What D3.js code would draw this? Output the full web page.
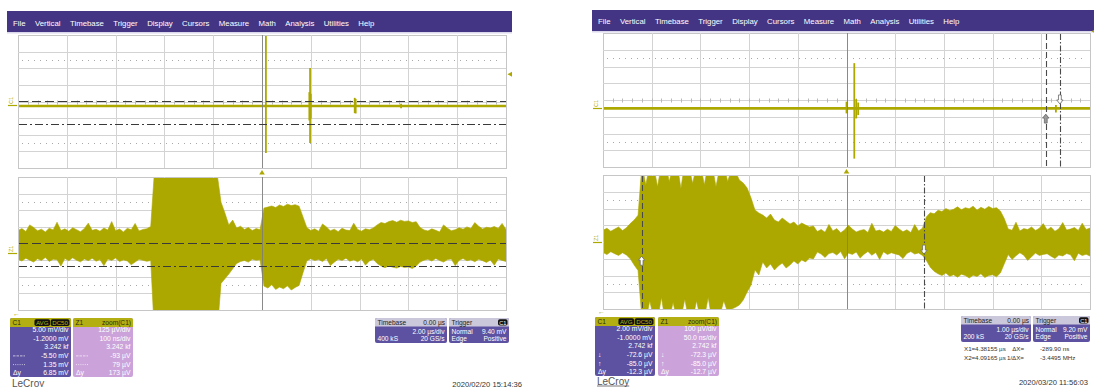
<!DOCTYPE html>
<html><head><meta charset="utf-8">
<script src="https://cdn.jsdelivr.net/npm/d3@7"></script>
<style>
html,body{margin:0;padding:0;background:#fff;}
svg{display:block;font-family:"Liberation Sans",Arial,sans-serif;}
</style></head><body>
<svg id="chart" width="1094" height="387"></svg>
<script>
// ---------------- data ----------------
const menuItems = ["File","Vertical","Timebase","Trigger","Display","Cursors","Measure","Math","Analysis","Utilities","Help"];

// Capture A: 2020/02/20 15:14:36
const aC1Offset = -1.2;            // mV
const aC1PerDiv = 5;               // mV/div
const aTimePerDiv = 2;             // µs/div
const aC1Level = -0.15;            // mV, quiet trace level
const aC1EventT   = [0.16, 1.94, 1.97, 2.00, 3.80, 3.84, 5.70];   // µs
const aC1EventMax = [22, 4.0, 11.3, 3.5, 2.3, 2.0, 0.5];         // mV
const aC1EventMin = [-14.3, -4.5, -11.3, -4.0, -2.3, -2.4, -0.8];// mV
const aC1Cursors = [-5.50, 1.35];  // mV
const aTrigLevel = 9.40;           // mV

const aZ1PerDiv = 125;             // µV/div
const aZ1Centre = 75;              // µV
const aZ1NsPerDiv = 100;
const aZ1T0 = -500, aZ1Step = 8;   // ns
const aZ1Max = [173,187,165,215,196,170,183,161,190,177,235,172,185,168,193,179,163,188,228,174,182,167,191,176,240,171,184,162,189,178,226,169,181,186,203,
  640,690,655,700,620,680,660,710,645,690,630,675,700,650,685,640,600,
  386,304,214,251,191,205,180,195,173,187,179,
  341,349,357,345,365,353,371,360,367,356,
  275,
  193,173,185,167,222,200,171,183,164,190,176,172,228,181,168,186,178,192,
  215,233,225,240,247,235,250,241,245,233,239,195,
  177,169,185,174,162,215,190,171,179,193,183,200,187,232,205,184,197,192,203,188,226,180];
const aZ1Min = [-45,-57,-35,-50,-65,-40,-53,-30,-60,-43,-47,-95,-37,-55,-33,-51,-63,-41,-54,-36,-58,-46,-92,-42,-52,-34,-61,-48,-56,-85,-64,-44,-51,-59,-53,
  -640,-700,-660,-690,-620,-680,-650,-710,-640,-670,-690,-630,-700,-660,-680,-650,-600,
  -225,-190,-155,-115,-75,-60,-53,-65,-43,-51,-47,
  -245,-260,-235,-270,-253,-265,-243,-275,-255,-240,
  -145,
  -55,-40,-53,-45,-61,-37,-90,-66,-43,-52,-35,-58,-47,-63,-41,-88,-56,-44,
  -75,-95,-107,-93,-103,-110,-97,-105,-101,-113,-95,-65,
  -50,-43,-57,-37,-53,-65,-46,-42,-92,-51,-38,-55,-47,-62,-44,-54,-67,-49,-88,-41,-52,-60];
const aZ1Cursors = [-93, 79];      // µV

const aC1Info = ["5.00 mV/div","-1.2000 mV","3.242 kf","-5.50 mV","1.35 mV","6.85 mV"];
const aZ1Info = ["125 µV/div","100 ns/div","3.242 kf","-93 µV","79 µV","173 µV"];
const aTimebase = ["0.00 µs","2.00 µs/div","400 kS","20 GS/s"];
const aTrigger = ["C1","Normal","9.40 mV","Edge","Positive"];
const aStamp = "2020/02/20 15:14:36";

// Capture B: 2020/03/20 11:56:03
const bC1Offset = -1.0;            // mV
const bC1PerDiv = 2;               // mV/div
const bTimePerDiv = 1;             // µs/div
const bC1Level = 0.0;
const bC1EventT   = [0.00, 0.16, 0.20, 0.24, 4.30];
const bC1EventMax = [0.8, 5.4, 1.1, 0.7, 0.4];
const bC1EventMin = [-0.6, -6.0, -1.2, -0.8, -0.5];
const bTrigLevel = 9.20;
const bCursorX1 = 4.38155, bCursorX2 = 4.09165;   // µs

const bZ1PerDiv = 100;             // µV/div
const bZ1NsPerDiv = 50;
const bZ1T0 = 4052, bZ1Step = 4;   // ns
const bZ1Max = [70,82,64,77,90,68,85,110,131,160,
  460,340,470,455,330,465,480,360,460,470,320,475,460,350,455,470,340,465,460,330,450,470,360,440,420,
  370,352,322,263,191,173,161,143,167,131,119,143,125,107,119,96,113,101,90,96,
  62,75,58,105,66,80,55,72,100,77,60,69,74,57,112,65,71,59,76,63,98,78,61,73,56,104,66,82,
  150,175,168,190,182,200,188,195,210,192,205,198,214,190,207,196,212,200,205,185,140,
  78,70,118,66,80,74,90,68,82,110,72,88,64,79,116,71,77,86,69,112,75,83];
const bZ1Min = [-62,-75,-58,-70,-80,-64,-77,-100,-137,-170,
  -460,-470,-350,-455,-465,-330,-480,-460,-360,-470,-455,-340,-465,-470,-350,-460,-455,-330,-470,-460,-440,-350,-420,-400,-390,
  -376,-346,-298,-257,-167,-197,-119,-155,-131,-167,-143,-125,-155,-137,-113,-131,-107,-119,-95,-101,
  -60,-72,-92,-68,-63,-78,-57,-100,-66,-74,-59,-96,-73,-56,-79,-62,-104,-58,-75,-64,-71,-77,-99,-68,-57,-72,-65,-80,
  -110,-150,-175,-190,-200,-185,-205,-195,-210,-192,-200,-215,-198,-206,-190,-212,-200,-196,-208,-185,-130,
  -75,-104,-82,-64,-79,-110,-88,-66,-80,-74,-70,-85,-98,-78,-83,-69,-76,-112,-67,-81,-73,-84];
const bZ1AtX1 = -72.3, bZ1AtX2 = -85.0;   // µV
const bC1AtX1 = -0.0726, bC1AtX2 = -0.085; // mV

const bC1Info = ["2.00 mV/div","-1.0000 mV","2.742 kf","-72.6 µV","-85.0 µV","-12.3 µV"];
const bZ1Info = ["100 µV/div","50.0 ns/div","2.742 kf","-72.3 µV","-85.0 µV","-12.7 µV"];
const bTimebase = ["0.00 µs","1.00 µs/div","200 kS","20 GS/s"];
const bTrigger = ["C1","Normal","9.20 mV","Edge","Positive"];
const bReadout = [["X1=","4.38155 µs","ΔX=","-289.90 ns"],["X2=","4.09165 µs","1/ΔX=","-3.4495 MHz"]];
const bStamp = "2020/03/20 11:56:03";

// ---------------- styling ----------------
const OLIVE = "#aca800", MENU = "#433584", PURPLE = "#5d52a1", LILAC = "#cba3da",
      HEAD = "#b3af12", GRAYHEAD = "#cbc8dc", GRID = "#d3d3d3", CURSOR = "#3a3a3a";

const svg = d3.select("#chart");
const defs = svg.append("defs");
let clipN = 0;

function menuBar(x, y, w, h, base) {
  svg.append("rect").attr("x", x).attr("y", y).attr("width", w).attr("height", h).attr("fill", MENU);
  svg.append("rect").attr("x", x).attr("y", y + h).attr("width", w).attr("height", 1.5).attr("fill", "#dcd8ec");
  let cx = x + 6;
  menuItems.forEach(m => {
    const t = svg.append("text").attr("x", cx).attr("y", base).attr("fill", "#fff")
      .attr("font-size", 7.8).text(m);
    cx += t.node().getComputedTextLength() + 9.4;
  });
}

function scopePanel(L, xDom, yDom) {
  const x = d3.scaleLinear().domain(xDom).range([L.x, L.x + L.w]);
  const y = d3.scaleLinear().domain(yDom).range([L.y + L.h, L.y]);
  const dx = (xDom[1] - xDom[0]) / 10, dy = (yDom[1] - yDom[0]) / 8;
  const ym = (yDom[0] + yDom[1]) / 2, xm = (xDom[0] + xDom[1]) / 2;
  const g = svg.append("g");
  g.append("rect").attr("x", L.x + .5).attr("y", L.y + .5).attr("width", L.w).attr("height", L.h)
    .attr("fill", "#fff").attr("stroke", "#c6c6c6");
  g.selectAll(null).data(d3.range(1, 10)).join("line")
    .attr("x1", i => Math.round(x(xDom[0] + i * dx)) + .5).attr("x2", i => Math.round(x(xDom[0] + i * dx)) + .5)
    .attr("y1", L.y).attr("y2", L.y + L.h).attr("stroke", GRID);
  g.selectAll(null).data(d3.range(1, 8)).join("line")
    .attr("y1", j => Math.round(y(yDom[0] + j * dy)) + .5).attr("y2", j => Math.round(y(yDom[0] + j * dy)) + .5)
    .attr("x1", L.x).attr("x2", L.x + L.w).attr("stroke", GRID);
  g.selectAll(null).data([-2.5, 2.5]).join("line")
    .attr("y1", k => Math.round(y(ym + k * dy)) + .5).attr("y2", k => Math.round(y(ym + k * dy)) + .5)
    .attr("x1", L.x + 4).attr("x2", L.x + L.w - 4).attr("stroke", "#a9a9a9").attr("stroke-dasharray", "1,5");
  // minor ticks along the centre line
  g.selectAll(null).data(d3.range(1, 50)).join("line")
    .attr("x1", i => Math.round(x(xDom[0] + i * dx / 5)) + .5).attr("x2", i => Math.round(x(xDom[0] + i * dx / 5)) + .5)
    .attr("y1", Math.round(y(ym)) - 1.5).attr("y2", Math.round(y(ym)) + 2.5).attr("stroke", "#b9b9b9");
  const id = "clip" + (clipN++);
  defs.append("clipPath").attr("id", id).append("rect")
    .attr("x", L.x + 1).attr("y", L.y + 1).attr("width", L.w - 1).attr("height", L.h - 1);
  const plot = svg.append("g").attr("clip-path", `url(#${id})`);
  const over = svg.append("g");
  over.append("line").attr("x1", Math.round(x(xm)) + .5).attr("x2", Math.round(x(xm)) + .5)
    .attr("y1", L.y).attr("y2", L.y + L.h).attr("stroke", "#7d7d7d").attr("stroke-opacity", .85);
  return { x, y, plot, over, L };
}

function envelope(P, t0, step, hi, lo) {
  const pts = hi.map((v, i) => ({ t: t0 + i * step, hi: v, lo: lo[i] }));
  const area = d3.area().x(d => P.x(d.t)).y0(d => P.y(d.lo)).y1(d => P.y(d.hi));
  P.plot.append("path").attr("d", area(pts)).attr("fill", OLIVE).attr("stroke", OLIVE).attr("stroke-width", .6);
}

function quietTrace(P, level, tE, mx, mn) {
  const dom = P.x.domain();
  P.plot.append("path").attr("d", d3.line().x(d => P.x(d)).y(() => P.y(level))(dom))
    .attr("stroke", OLIVE).attr("stroke-width", 2.6).attr("fill", "none");
  P.plot.selectAll(null).data(tE).join("line")
    .attr("x1", d => P.x(d)).attr("x2", d => P.x(d))
    .attr("y1", (d, i) => P.y(mx[i])).attr("y2", (d, i) => P.y(mn[i]))
    .attr("stroke", OLIVE).attr("stroke-width", 1.8);
}

function hCursor(P, v, dash) {
  const yy = Math.round(P.y(v)) + .5;
  P.over.append("line").attr("x1", P.L.x + 1).attr("x2", P.L.x + P.L.w).attr("y1", yy).attr("y2", yy)
    .attr("stroke", CURSOR).attr("stroke-width", 1.1).attr("stroke-dasharray", dash);
}
function vCursor(P, t, dash) {
  const xx = Math.round(P.x(t)) + .5;
  P.over.append("line").attr("y1", P.L.y + 1).attr("y2", P.L.y + P.L.h).attr("x1", xx).attr("x2", xx)
    .attr("stroke", "#4a4a4a").attr("stroke-width", 1.1).attr("stroke-dasharray", dash);
}
function cursorArrow(P, t, v, down, fill) {
  const cx = P.x(t), cy = P.y(v), s = down ? -1 : 1;
  const p = d3.path();
  p.moveTo(cx, cy); p.lineTo(cx + 3.2, cy + s * 4); p.lineTo(cx + 1.4, cy + s * 4);
  p.lineTo(cx + 1.4, cy + s * 9); p.lineTo(cx - 1.4, cy + s * 9); p.lineTo(cx - 1.4, cy + s * 4);
  p.lineTo(cx - 3.2, cy + s * 4); p.closePath();
  P.over.append("path").attr("d", p.toString()).attr("fill", fill).attr("stroke", "#6a6a6a").attr("stroke-width", .8);
}
function trigPosMarker(P) {
  const cx = P.x(0), b = P.L.y + P.L.h;
  svg.append("path").attr("d", `M${cx},${b + 2}L${cx + 2.8},${b + 6.5}L${cx - 2.8},${b + 6.5}Z`).attr("fill", OLIVE);
}
function trigLevelMarker(P, v) {
  const x0 = P.L.x + P.L.w + 1.5, cy = P.y(v);
  svg.append("path").attr("d", `M${x0},${cy}L${x0 + 4.5},${cy - 2.6}L${x0 + 4.5},${cy + 2.6}Z`).attr("fill", OLIVE);
}
function chanMarker(P, name) {
  const cy = Math.round(P.y(0)) + .5, x0 = P.L.x - 10;
  svg.append("line").attr("x1", x0).attr("x2", P.L.x - 1).attr("y1", cy).attr("y2", cy).attr("stroke", OLIVE).attr("stroke-width", 1.2);
  svg.append("text").attr("transform", `translate(${x0 + 5},${cy - 1.5}) rotate(-90)`)
    .attr("font-size", 5.5).attr("fill", OLIVE).text(name);
}

function channelBox(x, y, w, h, name, right, badges, body, values, labels) {
  const g = svg.append("g");
  g.append("rect").attr("x", x).attr("y", y).attr("width", w).attr("height", h).attr("rx", 2).attr("fill", body);
  g.append("path").attr("d", `M${x},${y + 9}V${y + 2}Q${x},${y} ${x + 2},${y}H${x + w - 2}Q${x + w},${y} ${x + w},${y + 2}V${y + 9}Z`).attr("fill", HEAD);
  g.append("text").attr("x", x + 2.5).attr("y", y + 7).attr("font-size", 6.6).attr("fill", "#2b2b10").text(name);
  if (badges) {
    let bx = x + w - 1.5;
    badges.slice().reverse().forEach(b => {
      const t = g.append("text").attr("x", bx - 1.5).attr("y", y + 7).attr("text-anchor", "end")
        .attr("font-size", 6.2).attr("fill", HEAD).text(b);
      const bw = t.node().getComputedTextLength() + 3;
      g.insert("rect", () => t.node()).attr("x", bx - bw).attr("y", y + 1.3).attr("width", bw).attr("height", 6.8)
        .attr("rx", 1.8).attr("fill", "#111");
      bx -= bw + 0.6;
    });
  } else {
    g.append("text").attr("x", x + w - 2).attr("y", y + 7).attr("text-anchor", "end")
      .attr("font-size", 6.6).attr("fill", "#2b2b10").text(right);
  }
  values.forEach((v, k) => {
    const by = y + 13.8 + k * 8.7;
    g.append("text").attr("x", x + w - 2.5).attr("y", by).attr("text-anchor", "end")
      .attr("font-size", 6.8).attr("fill", "#fff").text(v);
    const lab = labels[k];
    if (lab === "dash" || lab === "dot") {
      g.append("line").attr("x1", x + 3).attr("x2", x + 15).attr("y1", by - 2).attr("y2", by - 2)
        .attr("stroke", "#fff").attr("stroke-opacity", .8).attr("stroke-width", .8)
        .attr("stroke-dasharray", lab === "dash" ? "2.5,1" : "1,1.2");
    } else if (lab) {
      g.append("text").attr("x", x + 3).attr("y", by).attr("font-size", 6.8).attr("fill", "#fff").text(lab);
    }
  });
}

function statusBox(x, y, w, h, title, headRight, badge, rows) {
  const g = svg.append("g");
  g.append("rect").attr("x", x).attr("y", y).attr("width", w).attr("height", h).attr("rx", 2).attr("fill", PURPLE);
  g.append("path").attr("d", `M${x},${y + 8.5}V${y + 2}Q${x},${y} ${x + 2},${y}H${x + w - 2}Q${x + w},${y} ${x + w},${y + 2}V${y + 8.5}Z`).attr("fill", GRAYHEAD);
  g.append("text").attr("x", x + 2.5).attr("y", y + 6.8).attr("font-size", 6.6).attr("fill", "#222").text(title);
  if (badge) {
    g.append("rect").attr("x", x + w - 11).attr("y", y + 1.3).attr("width", 9.5).attr("height", 6.2).attr("rx", 1.8).attr("fill", "#111");
    g.append("text").attr("x", x + w - 6.2).attr("y", y + 6.6).attr("text-anchor", "middle").attr("font-size", 5.6).attr("fill", "#fff").text(badge);
  } else {
    g.append("text").attr("x", x + w - 2).attr("y", y + 6.8).attr("text-anchor", "end").attr("font-size", 6.6).attr("fill", "#222").text(headRight);
  }
  rows.forEach((r, k) => {
    const by = y + 16.2 + k * 7.2;
    if (r[0]) g.append("text").attr("x", x + 2.5).attr("y", by).attr("font-size", 6.6).attr("fill", "#fff").text(r[0]);
    if (r[1]) g.append("text").attr("x", x + w - 2.5).attr("y", by).attr("text-anchor", "end").attr("font-size", 6.6).attr("fill", "#fff").text(r[1]);
  });
}

function smallArrow(x, y) {
  svg.append("text").attr("x", x).attr("y", y).attr("font-size", 7).attr("fill", OLIVE).text("←");
}

// ================= Capture A =================
menuBar(7, 11, 505, 21, 25.5);
const aUp = scopePanel({ x: 18, y: 35, w: 488, h: 133 },
  [-5 * aTimePerDiv, 5 * aTimePerDiv], [-aC1Offset - 4 * aC1PerDiv, -aC1Offset + 4 * aC1PerDiv]);
quietTrace(aUp, aC1Level, aC1EventT, aC1EventMax, aC1EventMin);
hCursor(aUp, aC1Cursors[0], "8,3,2,3");
hCursor(aUp, aC1Cursors[1], "9,4");
chanMarker(aUp, "C1");
trigPosMarker(aUp);
trigLevelMarker(aUp, aTrigLevel);

const aLo = scopePanel({ x: 18, y: 177, w: 488, h: 133 },
  [-5 * aZ1NsPerDiv, 5 * aZ1NsPerDiv], [aZ1Centre - 4 * aZ1PerDiv, aZ1Centre + 4 * aZ1PerDiv]);
envelope(aLo, aZ1T0, aZ1Step, aZ1Max, aZ1Min);
hCursor(aLo, aZ1Cursors[0], "8,3,2,3");
hCursor(aLo, aZ1Cursors[1], "9,4");
chanMarker(aLo, "Z1");
smallArrow(13, 316);

channelBox(10, 318, 61, 59, "C1", null, ["AVG", "DC50"], PURPLE, aC1Info, ["", "", "", "dash", "dot", "Δy"]);
channelBox(73, 318, 60, 59, "Z1", "zoom(C1)", null, LILAC, aZ1Info, ["", "", "", "dash", "dot", "Δy"]);
statusBox(375, 318, 72, 25, "Timebase", aTimebase[0], null, [["", aTimebase[1]], [aTimebase[2], aTimebase[3]]]);
statusBox(449, 318, 60, 25, "Trigger", null, aTrigger[0], [[aTrigger[1], aTrigger[2]], [aTrigger[3], aTrigger[4]]]);
svg.append("text").attr("x", 12).attr("y", 386.5).attr("font-size", 10).attr("fill", "#555").text("LeCroy");
svg.append("text").attr("x", 522).attr("y", 386.5).attr("text-anchor", "end").attr("font-size", 7.6).attr("fill", "#333").text(aStamp);

// ================= Capture B =================
menuBar(592, 10, 502, 21, 24);
const bUp = scopePanel({ x: 603, y: 33, w: 487, h: 134 },
  [-5 * bTimePerDiv, 5 * bTimePerDiv], [-bC1Offset - 4 * bC1PerDiv, -bC1Offset + 4 * bC1PerDiv]);
quietTrace(bUp, bC1Level, bC1EventT, bC1EventMax, bC1EventMin);
vCursor(bUp, bCursorX2, "6,3");
vCursor(bUp, bCursorX1, "6,2,1.5,2");
cursorArrow(bUp, bCursorX1, bC1AtX1 + 0.6, true, "#fff");
cursorArrow(bUp, bCursorX2, bC1AtX2 - 0.6, false, "#9a9a9a");
chanMarker(bUp, "C1");
trigPosMarker(bUp);
trigLevelMarker(bUp, bTrigLevel);

const bCentreNs = bZ1T0 + 5 * bZ1NsPerDiv;
const bLo = scopePanel({ x: 603, y: 175, w: 487, h: 134 },
  [bCentreNs - 5 * bZ1NsPerDiv, bCentreNs + 5 * bZ1NsPerDiv], [-4 * bZ1PerDiv, 4 * bZ1PerDiv]);
envelope(bLo, bZ1T0, bZ1Step, bZ1Max, bZ1Min);
vCursor(bLo, bCursorX2 * 1000, "6,3");
vCursor(bLo, bCursorX1 * 1000, "6,2,1.5,2");
cursorArrow(bLo, bCursorX1 * 1000, bZ1AtX1, true, "#fff");
cursorArrow(bLo, bCursorX2 * 1000, bZ1AtX2, false, "#fff");
chanMarker(bLo, "Z1");
smallArrow(598, 314);

channelBox(595, 317, 60, 59, "C1", null, ["AVG", "DC50"], PURPLE, bC1Info, ["", "", "", "↓", "↑", "Δy"]);
channelBox(658, 317, 61, 59, "Z1", "zoom(C1)", null, LILAC, bZ1Info, ["", "", "", "↓", "↑", "Δy"]);
statusBox(961, 316, 70, 26, "Timebase", bTimebase[0], null, [["", bTimebase[1]], [bTimebase[2], bTimebase[3]]]);
statusBox(1033, 316, 57, 26, "Trigger", null, bTrigger[0], [[bTrigger[1], bTrigger[2]], [bTrigger[3], bTrigger[4]]]);
bReadout.forEach((r, k) => {
  const by = 350.5 + k * 9;
  const fs = 6.2;
  svg.append("text").attr("x", 964).attr("y", by).attr("font-size", fs).attr("fill", "#333").text(r[0]);
  svg.append("text").attr("x", 975).attr("y", by).attr("font-size", fs).attr("fill", "#333").text(r[1]);
  svg.append("text").attr("x", 1024).attr("y", by).attr("text-anchor", "end").attr("font-size", fs).attr("fill", "#333").text(r[2]);
  svg.append("text").attr("x", 1040).attr("y", by).attr("font-size", fs).attr("fill", "#333").text(r[3]);
});
const lc = svg.append("text").attr("x", 597).attr("y", 384.5).attr("font-size", 10).attr("fill", "#555").text("LeCroy");
const lcw = lc.node().getComputedTextLength();
svg.append("line").attr("x1", 597).attr("x2", 597 + lcw).attr("y1", 386).attr("y2", 386).attr("stroke", "#555").attr("stroke-width", .8);
svg.append("text").attr("x", 1088).attr("y", 385).attr("text-anchor", "end").attr("font-size", 7.6).attr("fill", "#333").text(bStamp);
</script>
</body></html>
